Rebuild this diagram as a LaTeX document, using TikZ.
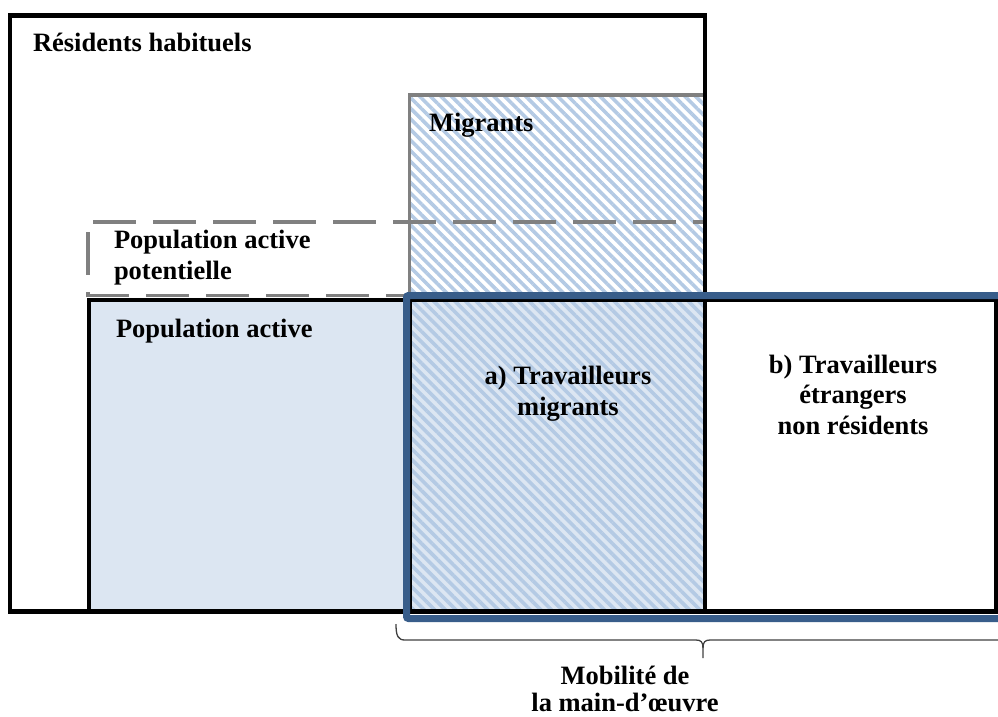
\documentclass[tikz,border=0pt]{standalone}
\usepackage{fontspec}
\setmainfont{Liberation Serif}
\usetikzlibrary{patterns.meta}
\definecolor{lightfill}{HTML}{DCE6F2}
\definecolor{hatchcol}{HTML}{B4CAE4}
\definecolor{bluebord}{HTML}{385D8A}
\definecolor{graybord}{HTML}{808080}
\definecolor{bracecol}{HTML}{404040}
\begin{document}
\begin{tikzpicture}[x=1pt,y=-1pt,
  lbl/.style={font=\bfseries\fontsize{26.5}{30.5}\selectfont, inner sep=0pt, outer sep=0pt},
  blackline/.style={draw=black, line width=4.5pt},
  grayline/.style={draw=graybord, line width=3.5pt},
  dashline/.style={grayline, dash pattern=on 43pt off 17pt},
  hatchfill/.style={pattern={Lines[angle=-45,distance=7.5pt,line width=3.6pt]}, pattern color=hatchcol}]
\useasboundingbox (0,0) rectangle (998,716);
\clip (0,0) rectangle (998,716);
% fills
\fill[lightfill] (89,300) rectangle (705,611.5);
\fill[hatchfill] (409.5,95) rectangle (705,611.5);
% migrants border
\draw[grayline] (409.5,95) rectangle (705,300);
% potential labour force (dashed)
\draw[dashline, dash phase=55pt] (88,222) -- (705,222);
\draw[dashline, dash phase=50pt] (88,222) -- (88,295.5);
\draw[dashline] (86,295.5) -- (405,295.5);
% usual residents
\draw[blackline] (10,15.5) rectangle (705,611.5);
% labour force
\draw[blackline] (89,300) rectangle (996,611.5);
\draw[blackline] (410,300) -- (410,611.5);
% labour mobility (blue)
\draw[draw=bluebord, line width=7pt, rounded corners=2pt] (406.5,295.5) rectangle (1012,618.5);
% brace
\coordinate (bl) at (396,624);
\coordinate (bm) at (703,658);
\coordinate (br) at (1005,640);
\draw[bracecol, line width=1.3pt] (bl) .. controls (396,636) and (398,640) .. (405,640) -- (696,640)
  .. controls (701,640) and (703,642) .. (703,648) -- (bm);
\draw[bracecol, line width=1.3pt] (703,648) .. controls (703,642) and (705,640) .. (710,640) -- (br);
% labels (base anchor = baseline of last line)
\node[lbl, anchor=base west] (res) at (33,51) {Résidents habituels};
\node[lbl, anchor=base west] (mig) at (429,131) {Migrants};
\node[lbl, anchor=base west, align=left] (pot) at (114,279) {Population active\\potentielle};
\node[lbl, anchor=base west] (pa) at (116,337) {Population active};
\node[lbl, anchor=base, align=center] (tm) at (568,415) {a) Travailleurs\\migrants};
\node[lbl, anchor=base, align=center] (te) at (853,434) {b) Travailleurs\\étrangers\\non résidents};
\node[lbl, anchor=base, align=center, font=\bfseries\fontsize{26.5}{27}\selectfont, text depth=0pt] (mob) at (625,711) {Mobilité de\\la main-d’œuvre};
\end{tikzpicture}
\end{document}
